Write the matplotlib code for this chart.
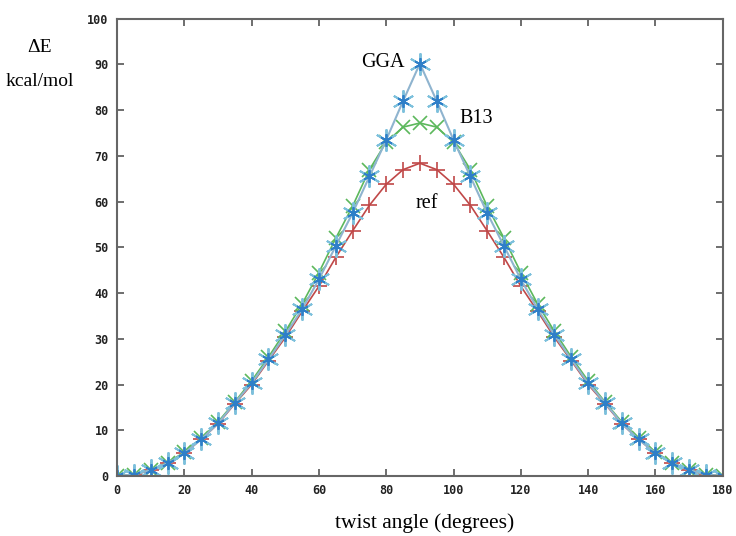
import numpy as np
import matplotlib.pyplot as plt

# twist angle, every 5 degrees
angle = list(range(0, 185, 5))

ref = [0, 0.3, 1.2, 2.8, 5.0, 8.0, 11.4, 15.8, 20.0, 25.2, 30.3, 36.0, 41.5, 47.8, 53.6,
       59.2, 63.8, 67.0, 68.4,
       67.0, 63.8, 59.2, 53.6, 47.8, 41.5, 36.0, 30.3, 25.2, 20.0, 15.8, 11.4, 8.0, 5.0,
       2.8, 1.2, 0.3, 0]
b13 = [0, 0.3, 1.3, 2.9, 5.2, 8.2, 11.8, 16.2, 20.8, 26.0, 31.6, 37.6, 44.5, 52.0, 59.0,
       67.0, 73.0, 76.3, 77.2,
       76.3, 73.0, 67.0, 59.0, 52.0, 44.5, 37.6, 31.6, 26.0, 20.8, 16.2, 11.8, 8.2, 5.2,
       2.9, 1.3, 0.3, 0]
gga = [0, 0.3, 1.3, 2.8, 5.0, 8.0, 11.5, 16.0, 20.3, 25.5, 30.8, 36.5, 43.0, 50.3, 57.5,
       65.5, 73.5, 82.0, 90.2,
       82.0, 73.5, 65.5, 57.5, 50.3, 43.0, 36.5, 30.8, 25.5, 20.3, 16.0, 11.5, 8.0, 5.0,
       2.8, 1.3, 0.3, 0]

fig = plt.figure(figsize=(7.36, 5.36), dpi=100)
ax = fig.add_axes([0.159, 0.112, 0.823, 0.853])

ax.plot(angle, ref, color="#c04848", lw=1.2, marker="+", ms=11, mew=1.2)
ax.plot(angle, b13, color="#5cb85c", lw=1.2, marker="x", ms=10, mew=1.2)
ax.plot(angle, gga, color="#8fb4cf", lw=1.5, marker=(6, 2, 0), ms=16, mew=1.4,
        mec="#7cc0dc")
ax.plot(angle, gga, ls="none", marker=(6, 2, 0), ms=9, mew=1.3, mec="#2f7fc8")

ax.set_xlim(0, 180)
ax.set_ylim(0, 100)
ax.set_xticks(range(0, 181, 20))
ax.set_yticks(range(0, 101, 10))
ax.tick_params(direction="in", top=True, right=True, length=5, width=1.2,
               color="#555555", pad=6)
for lab in ax.get_xticklabels() + ax.get_yticklabels():
    lab.set_fontfamily("DejaVu Sans Mono")
    lab.set_fontweight("bold")
    lab.set_fontsize(8.5)
    lab.set_color("#222222")
for s in ax.spines.values():
    s.set_color("#666666")
    s.set_linewidth(1.5)

serif = "Liberation Serif"
fig.text(40 / 736, 1 - 48 / 536, "ΔE", family=serif, fontsize=14, ha="center", va="center")
fig.text(40 / 736, 1 - 82 / 536, "kcal/mol", family=serif, fontsize=14, ha="center", va="center")
fig.text(425 / 736, 1 - 523 / 536, "twist angle (degrees)", family=serif, fontsize=15.5,
         ha="center", va="center")
ax.text(79, 90.4, "GGA", family=serif, fontsize=14.5, ha="center", va="center")
ax.text(106.6, 78.1, "B13", family=serif, fontsize=14.5, ha="center", va="center")
ax.text(92.1, 59.7, "ref", family=serif, fontsize=14.5, ha="center", va="center")

fig.savefig("out.png", dpi=100)
